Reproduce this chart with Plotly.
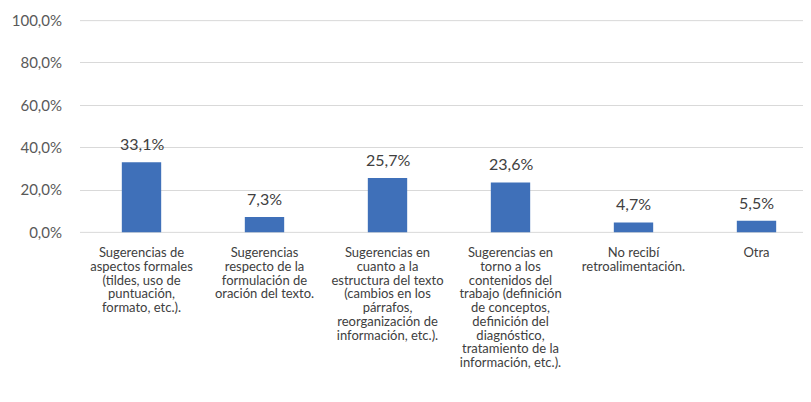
import plotly.graph_objects as go

categories = [
    "Sugerencias de<br>aspectos formales<br>(tildes, uso de<br>puntuación,<br>formato, etc.).",
    "Sugerencias<br>respecto de la<br>formulación de<br>oración del texto.",
    "Sugerencias en<br>cuanto a la<br>estructura del texto<br>(cambios en los<br>párrafos,<br>reorganización de<br>información, etc.).",
    "Sugerencias en<br>torno a los<br>contenidos del<br>trabajo (definición<br>de conceptos,<br>definición del<br>diagnóstico,<br>tratamiento de la<br>información, etc.).",
    "No recibí<br>retroalimentación.",
    "Otra",
]
values = [33.1, 7.3, 25.7, 23.6, 4.7, 5.5]
y_ticks = [0, 20, 40, 60, 80, 100]
y_tick_labels = ["0,0%", "20,0%", "40,0%", "60,0%", "80,0%", "100,0%"]

FONT = "Lato, 'Open Sans', sans-serif"

fig = go.Figure()
fig.add_trace(go.Bar(
    x=list(range(len(categories))),
    y=values,
    marker=dict(color="#3F70B9", line=dict(width=0)),
    width=0.32,
    hoverinfo="skip",
))

for i, v in enumerate(values):
    fig.add_annotation(
        x=i, y=v, text=f"{v:.1f}%".replace(".", ","),
        showarrow=False, yanchor="bottom", yshift=7,
        font=dict(family=FONT, size=16, color="#404040"),
    )

# gridlines at the range ends (plotly omits edge gridlines)
for yv in (y_ticks[0], y_ticks[-1]):
    fig.add_hline(y=yv, line=dict(color="#d9d9d9", width=1), layer="below")

fig.update_layout(
    width=803, height=394,
    margin=dict(l=72, r=0, t=12, b=169),
    paper_bgcolor="white", plot_bgcolor="white",
    showlegend=False,
    separators=",.",
    font=dict(family=FONT, color="#595959"),
    xaxis=dict(
        tickmode="array",
        tickvals=list(range(len(categories))),
        ticktext=categories,
        range=[-0.5, -0.5 + 731 / 123],
        tickangle=0,
        ticks="",
        showgrid=False,
        showline=False,
        zeroline=False,
        automargin=False,
        ticklabelstandoff=10,
        tickfont=dict(family=FONT, size=13, color="#404040"),
        fixedrange=True,
    ),
    yaxis=dict(
        range=[-0.3, 100.3],
        tickvals=y_ticks,
        ticktext=y_tick_labels,
        showgrid=True,
        gridcolor="#d9d9d9",
        gridwidth=1,
        zeroline=False,
        showline=False,
        ticks="",
        automargin=False,
        ticklabelstandoff=17,
        tickfont=dict(family=FONT, size=15, color="#595959"),
        fixedrange=True,
    ),
)

post = """
var gd = document.getElementById('{plot_id}');
function tighten(){
  gd.querySelectorAll('.xtick text tspan.line').forEach(function(t){
    if (t.getAttribute('data-tight')) return;
    var dy = t.getAttribute('dy');
    if (dy && parseFloat(dy) > 0) {
      t.setAttribute('dy', (parseFloat(dy) / 1.3 * 1.06).toFixed(3) + 'em');
    }
    t.setAttribute('data-tight', '1');
  });
}
tighten();
gd.on('plotly_afterplot', tighten);
"""

fig.write_html("out.html", post_script=post)
